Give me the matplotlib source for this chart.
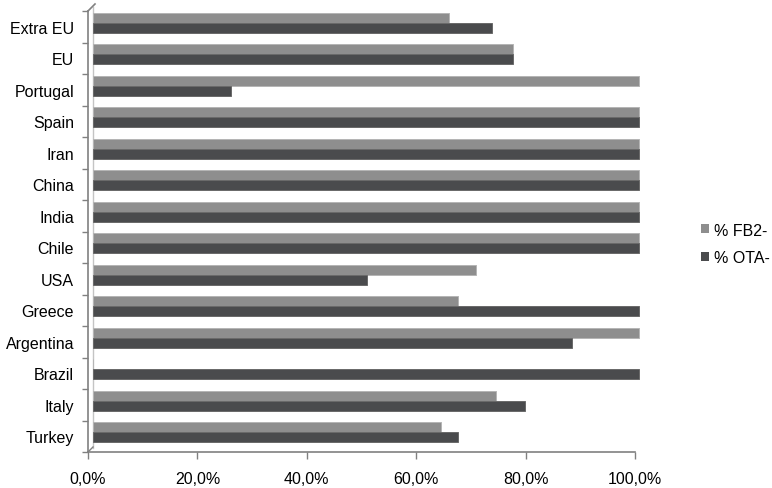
import matplotlib
matplotlib.use("Agg")
import matplotlib.pyplot as plt
import matplotlib.transforms as mtransforms
from matplotlib.patches import Patch
from matplotlib.lines import Line2D
import numpy as np

categories = ["Extra EU", "EU", "Portugal", "Spain", "Iran", "China", "India",
              "Chile", "USA", "Greece", "Argentina", "Brazil", "Italy", "Turkey"]
fb2 = [65.2, 76.8, 100.0, 100.0, 100.0, 100.0, 100.0, 100.0, 70.1, 66.8, 100.0, 0.0, 73.8, 63.8]
ota = [73.0, 76.8, 25.3, 100.0, 100.0, 100.0, 100.0, 100.0, 50.2, 100.0, 87.6, 100.0, 79.0, 66.8]
series_names = ["% FB2-", "% OTA-"]
xticks = [0, 20, 40, 60, 80, 100]
xticklabels = ["0,0%", "20,0%", "40,0%", "60,0%", "80,0%", "100,0%"]

plt.rcParams['font.family'] = ['Liberation Sans', 'DejaVu Sans']

fig = plt.figure(figsize=(7.72, 4.89), dpi=100)
W, H = 772, 489
x0, x1 = 88, 635
y_top, y_bot = 12, 453
ax = fig.add_axes([x0 / W, 1 - y_bot / H, (x1 - x0) / W, (y_bot - y_top) / H])

n = len(categories)
y = np.arange(n)
bh = 0.32
c_fb2 = "#8e8e8e"
c_ota = "#4a4b4d"

# 3D-like shift of the bar plane
off = mtransforms.ScaledTranslation(4.5 / 100, 4 / 100, fig.dpi_scale_trans)
tr = ax.transData + off

b1 = ax.barh(y - bh / 2, fb2, height=bh, color=c_fb2, edgecolor="#b5b5b5",
             linewidth=0.7, transform=tr, zorder=3)
b2 = ax.barh(y + bh / 2, ota, height=bh, color=c_ota, edgecolor="#6a6a6a",
             linewidth=0.7, transform=tr, zorder=3)
for p in list(b1) + list(b2):
    p.set_clip_on(False)

# back wall line
ax.plot([0, 0], [-0.5, n - 0.5], color="#c4c4c4", lw=1.0, transform=tr, zorder=2,
        clip_on=False)

ax.set_xlim(0, 100)
ax.set_ylim(n - 0.5, -0.5)

ax.set_yticks(y)
ax.set_yticklabels(categories, fontsize=11.5)
ax.set_yticks(np.arange(n + 1) - 0.5, minor=True)
ax.tick_params(axis="y", which="major", length=0, pad=10)
ax.tick_params(axis="y", which="minor", length=4, color="#808080", width=1)

ax.set_xticks(xticks)
ax.set_xticklabels(xticklabels, fontsize=11.5)
ax.tick_params(axis="x", length=5, color="#808080", width=1, pad=9)

for s in ["top", "right"]:
    ax.spines[s].set_visible(False)
for s in ["left", "bottom"]:
    ax.spines[s].set_color("#808080")
    ax.spines[s].set_linewidth(1.2)

# corner kinks of the 3D frame
fig.add_artist(Line2D([x0 / W, 95 / W], [1 - y_top / H, 1 - 5 / H],
                      color="#808080", lw=1.2))
fig.add_artist(Line2D([x0 / W, 93 / W], [1 - y_bot / H, 1 - 448 / H],
                      color="#808080", lw=1.0))

handles = [Patch(facecolor=c_fb2, edgecolor="none"), Patch(facecolor=c_ota, edgecolor="none")]
fig.legend(handles, series_names, loc="center left", bbox_to_anchor=(688 / W, 1 - 245 / H),
           frameon=False, fontsize=11.5, handlelength=0.5, handleheight=0.5,
           handletextpad=0.3, labelspacing=0.8, borderpad=0.3)

fig.savefig("out.png", dpi=100)
